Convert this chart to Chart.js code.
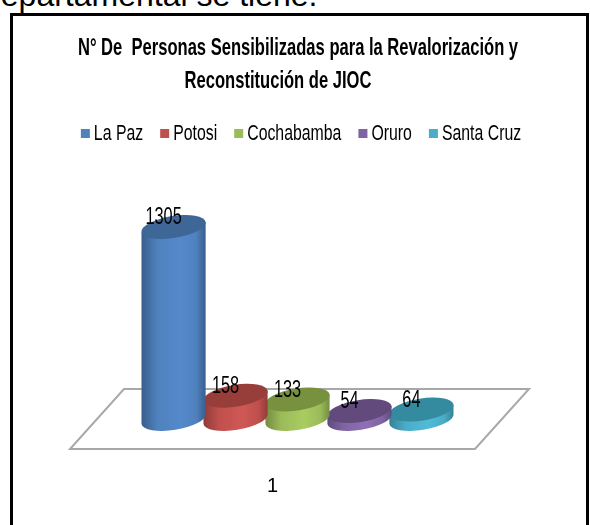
<!DOCTYPE html>
<html>
<head>
<meta charset="utf-8">
<style>
  html, body { margin: 0; padding: 0; background: #fff; overflow: hidden; }
  #caption { position: absolute; left: -17px; top: -23px; font: 32px "Liberation Sans", Arial, sans-serif; color: #000; white-space: nowrap; }
  #frame { position: absolute; left: 10px; top: 13px; width: 573px; height: 530px; border: 3px solid #000; background: #fff; }
  #chartBox { position: absolute; left: 14px; top: 17px; width: 568px; height: 508px; }
</style>
</head>
<body>
<div id="caption">departamental se tiene.</div>
<div id="frame"></div>
<div id="chartBox"><canvas id="jiocChart"></canvas></div>
<script src="https://cdn.jsdelivr.net/npm/chart.js@4/dist/chart.umd.min.js"></script>
<script>
const categories = ['1'];
const departments = ['La Paz', 'Potosi', 'Cochabamba', 'Oruro', 'Santa Cruz'];
const personCounts = [1305, 158, 133, 54, 64];
const titleLines = ['N° De  Personas Sensibilizadas para la Revalorización y', 'Reconstitución de JIOC'];

const bodyColors = ['#4f81bd', '#c0504d', '#9bbb59', '#8064a2', '#4bacc6'];
const lightColors = ['#5489cb', '#cf5855', '#a9cc61', '#8f70b5', '#4fbbd8'];
const edgeColors = ['#375d8c', '#8f3b39', '#738b42', '#5f4a79', '#338096'];
const topColors = ['#3e6797', '#973e3b', '#77913f', '#624b7c', '#348a9f'];

const textFont = '"Liberation Sans", Arial, sans-serif';
const floorDepthX = 54;
const floorDepthY = 60;
const barShiftX = 25; // cylinders stand mid-way into the floor
const tilt = -9 * Math.PI / 180;

// the original text is a narrow face, fillText maxWidth gets close
function narrowText(ctx, text, x, y, squeeze) {
  ctx.fillText(text, x, y, ctx.measureText(text).width * squeeze);
}

// floor, cylinders and value labels are drawn from the bar elements' own pixels
const cylinderPlugin = {
  id: 'cylinders',
  beforeDatasetsDraw(chart) {
    const { ctx, chartArea: a } = chart;
    ctx.save();
    ctx.strokeStyle = '#a8a8a8';
    ctx.lineWidth = 2;
    ctx.beginPath();
    ctx.moveTo(a.left, a.bottom);
    ctx.lineTo(a.right, a.bottom);
    ctx.lineTo(a.right + floorDepthX, a.bottom - floorDepthY);
    ctx.lineTo(a.left + floorDepthX, a.bottom - floorDepthY);
    ctx.closePath();
    ctx.stroke();
    ctx.restore();
  },
  beforeDatasetDraw(chart, args) {
    const { ctx } = chart;
    const i = args.index;
    const bar = args.meta.data[0];
    const cx = bar.x + barShiftX;
    const rx = bar.width / 2;
    const ry = 11;
    const topY = bar.y - floorDepthY / 2;
    const baseY = bar.base - floorDepthY / 2;
    const dx = rx * Math.cos(tilt);
    const dy = rx * Math.sin(tilt);

    const grad = ctx.createLinearGradient(cx - rx, 0, cx + rx, 0);
    grad.addColorStop(0, edgeColors[i]);
    grad.addColorStop(0.25, bodyColors[i]);
    grad.addColorStop(0.6, lightColors[i]);
    grad.addColorStop(0.85, bodyColors[i]);
    grad.addColorStop(1, edgeColors[i]);

    ctx.save();
    ctx.fillStyle = grad;
    ctx.beginPath();
    ctx.ellipse(cx, baseY, rx, ry, tilt, 0, Math.PI);
    ctx.lineTo(cx - dx, topY - dy);
    ctx.lineTo(cx + dx, topY + dy);
    ctx.closePath();
    ctx.fill();
    ctx.fillStyle = topColors[i];
    ctx.beginPath();
    ctx.ellipse(cx, topY, rx, ry, tilt, 0, Math.PI * 2);
    ctx.fill();
    ctx.restore();
    return false;
  },
  afterDatasetsDraw(chart) {
    const { ctx } = chart;
    ctx.save();
    ctx.fillStyle = '#000';
    ctx.font = '23px ' + textFont;
    ctx.textAlign = 'center';
    ctx.textBaseline = 'middle';
    chart.data.datasets.forEach((ds, i) => {
      const bar = chart.getDatasetMeta(i).data[0];
      narrowText(ctx, String(ds.data[0]), bar.x + barShiftX - 10, bar.y - floorDepthY / 2 - 9, 0.71);
    });
    ctx.restore();
  }
};

// title and legend need the squeezed text too, the built-in ones can't do it
const headerPlugin = {
  id: 'header',
  afterDraw(chart) {
    const { ctx, width } = chart;
    ctx.save();
    ctx.fillStyle = '#000';
    ctx.textBaseline = 'middle';
    ctx.textAlign = 'center';
    ctx.font = 'bold 24px ' + textFont;
    narrowText(ctx, titleLines[0], width / 2, 31, 0.69);
    narrowText(ctx, titleLines[1], width / 2 - 20, 64, 0.69);

    ctx.font = '22px ' + textFont;
    ctx.textAlign = 'left';
    const squeeze = 0.72;
    const boxSize = 9, boxGap = 4, itemGap = 17;
    const widths = departments.map(d => ctx.measureText(d).width * squeeze);
    const total = widths.reduce((s, w) => s + w + boxSize + boxGap, 0) + itemGap * (departments.length - 1);
    let x = width / 2 - total / 2 + 3;
    departments.forEach((d, i) => {
      ctx.fillStyle = bodyColors[i];
      ctx.fillRect(x, 112, boxSize, boxSize);
      ctx.fillStyle = '#000';
      narrowText(ctx, d, x + boxSize + boxGap, 117, squeeze);
      x += boxSize + boxGap + widths[i] + itemGap;
    });
    ctx.restore();
  }
};

new Chart(document.getElementById('jiocChart'), {
  type: 'bar',
  plugins: [cylinderPlugin, headerPlugin],
  data: {
    labels: categories,
    datasets: departments.map((name, i) => ({
      label: name,
      data: [personCounts[i]],
      backgroundColor: bodyColors[i],
      categoryPercentage: 0.765,
      barPercentage: 1.048
    }))
  },
  options: {
    responsive: true,
    maintainAspectRatio: false,
    animation: false,
    layout: { padding: { left: 56, right: 107, top: 226, bottom: 2 } },
    plugins: {
      tooltip: { enabled: false },
      title: { display: false },
      legend: { display: false }
    },
    scales: {
      x: {
        grid: { display: false, drawTicks: false },
        border: { display: false },
        ticks: { color: '#000', font: { family: textFont, size: 20 }, padding: 25 }
      },
      y: { display: false, min: 0, max: 1400 }
    }
  }
});
</script>
</body>
</html>
